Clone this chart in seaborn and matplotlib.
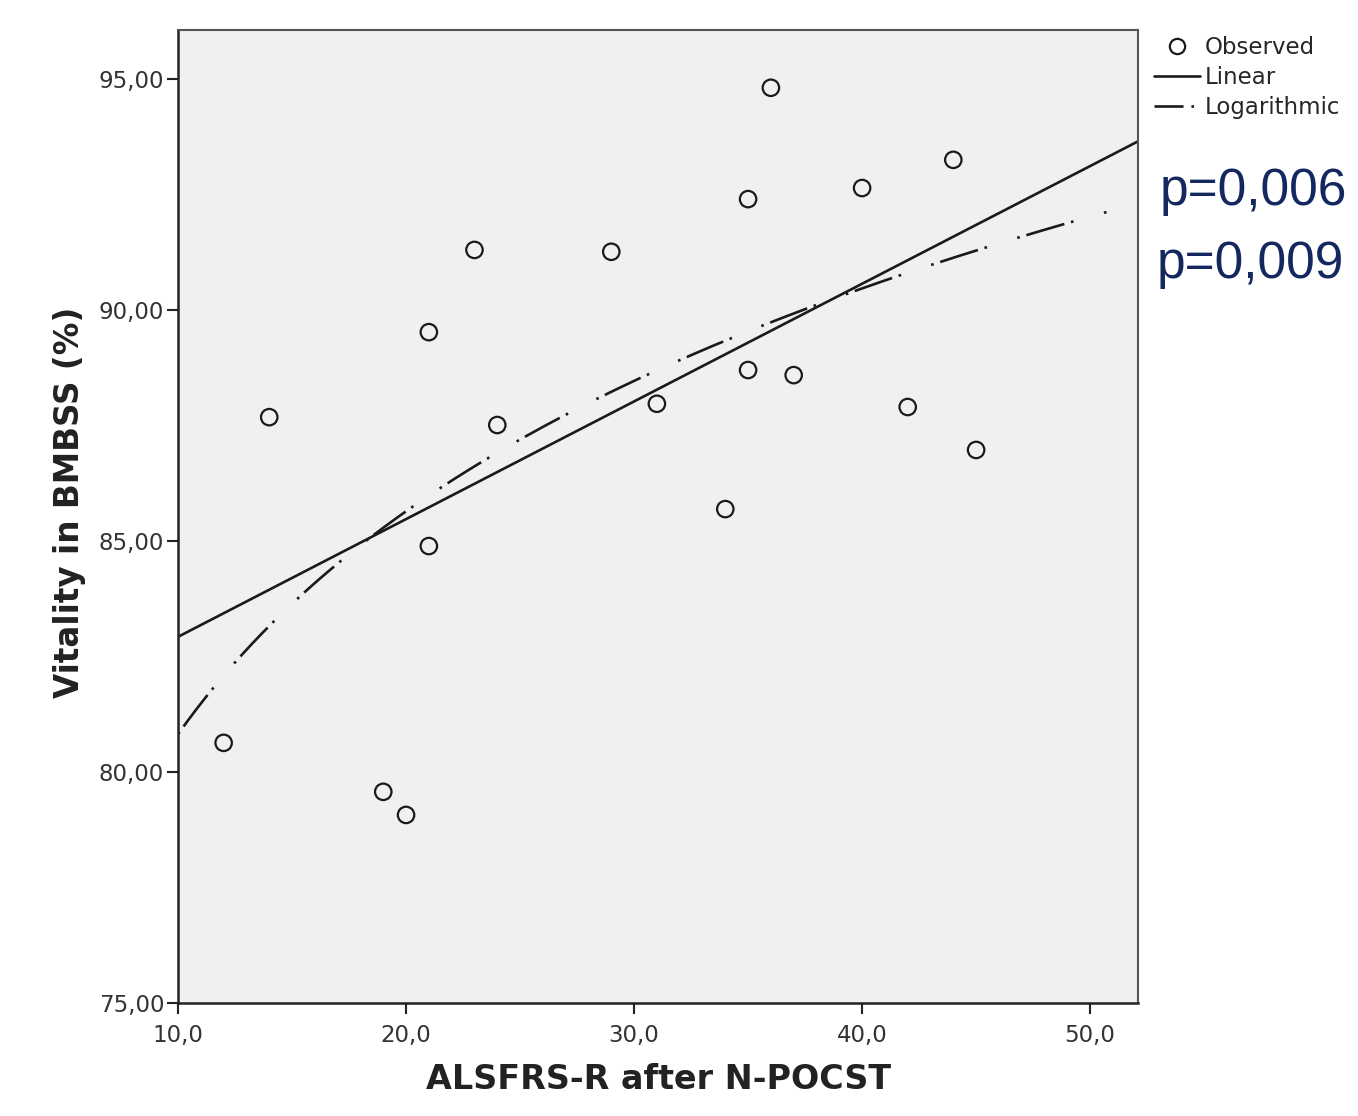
import numpy as np
import pandas as pd
import matplotlib
matplotlib.use("Agg")
import matplotlib.pyplot as plt
import seaborn as sns
from matplotlib.ticker import FuncFormatter
from matplotlib.lines import Line2D

alsfrs = [12, 14, 19, 20, 21, 21, 23, 24, 29, 31, 34, 35, 35, 36, 37, 40, 42, 44, 45]
vitality = [80.63, 87.68, 79.57, 79.07, 89.52, 84.89, 91.30, 87.51, 91.26, 87.97,
            85.69, 92.40, 88.70, 94.81, 88.59, 92.64, 87.90, 93.25, 86.97]

x_ticks = [10, 20, 30, 40, 50]
y_ticks = [75, 80, 85, 90, 95]
p_values = ["p=0,006", "p=0,009"]

df = pd.DataFrame({"ALSFRS": alsfrs, "Vitality": vitality})

sns.set_style("white")
plt.rcParams["font.family"] = ["DejaVu Sans"]

fig = plt.figure(figsize=(13.58, 11.16), dpi=100)
ax = fig.add_axes([0.1311, 0.1013, 0.7069, 0.8718])
ax.set_facecolor("#f0f0f0")

x_min, x_max = 10, 52.1
ax.set_xlim(x_min, x_max)
ax.set_ylim(75, 96.06)

# Fitted curves (linear and logarithmic) from the observed data
lin_coef = np.polyfit(df["ALSFRS"], df["Vitality"], 1)
log_coef = np.polyfit(np.log(df["ALSFRS"]), df["Vitality"], 1)

x_lin = np.linspace(x_min, x_max, 200)
x_log = np.linspace(x_min, 51, 200)
ax.plot(x_lin, np.polyval(lin_coef, x_lin), color="#1a1a1a", lw=1.9, zorder=2)
ax.plot(x_log, np.polyval(log_coef, np.log(x_log)), color="#1a1a1a", lw=1.9,
        dashes=(1.0, 2.6, 15, 2.6, 1.0, 12), zorder=2)

sns.scatterplot(data=df, x="ALSFRS", y="Vitality", ax=ax, s=140, marker="o",
                facecolor="none", edgecolor="#1a1a1a", linewidth=1.6, zorder=3)

ax.set_xticks(x_ticks)
ax.set_yticks(y_ticks)
ax.xaxis.set_major_formatter(FuncFormatter(lambda v, p: f"{v:.1f}".replace(".", ",")))
ax.yaxis.set_major_formatter(FuncFormatter(lambda v, p: f"{v:.2f}".replace(".", ",")))
ax.tick_params(axis="both", direction="out", length=8, width=1.5, color="#222222",
               labelsize=16.5, labelcolor="#333333", bottom=True, left=True)
ax.tick_params(axis="x", pad=7)
ax.tick_params(axis="y", pad=2)

for side in ["left", "bottom"]:
    ax.spines[side].set_color("#222222")
    ax.spines[side].set_linewidth(1.8)
for side in ["top", "right"]:
    ax.spines[side].set_color("#555555")
    ax.spines[side].set_linewidth(1.5)

ax.set_xlabel("ALSFRS-R after N-POCST", fontsize=24, fontweight="bold",
              color="#222222", labelpad=12)
ax.set_ylabel("Vitality in BMBSS (%)", fontsize=23.5, fontweight="bold",
              color="#222222", labelpad=9)
ax.yaxis.label.set_y(0.514)

handles = [
    Line2D([], [], marker="o", ls="none", mfc="none", mec="#1a1a1a", ms=11, mew=1.6),
    Line2D([], [], color="#1a1a1a", lw=1.9),
    Line2D([], [], color="#1a1a1a", lw=1.9, dashes=(11, 3, 1, 20)),
]
fig.legend(handles, ["Observed", "Linear", "Logarithmic"], loc="upper left",
           bbox_to_anchor=(0.838, 0.982), frameon=False, fontsize=16.5,
           handlelength=2.0, handletextpad=0.2, labelspacing=0.3, borderpad=0.2)

fig.text(1160 / 1358, 1 - 205 / 1116, p_values[0], fontsize=37,
         family="Liberation Sans", color="#14285f", va="baseline")
fig.text(1157 / 1358, 1 - 278 / 1116, p_values[1], fontsize=37,
         family="Liberation Sans", color="#14285f", va="baseline")

fig.savefig("out.png", dpi=100, facecolor="white")
